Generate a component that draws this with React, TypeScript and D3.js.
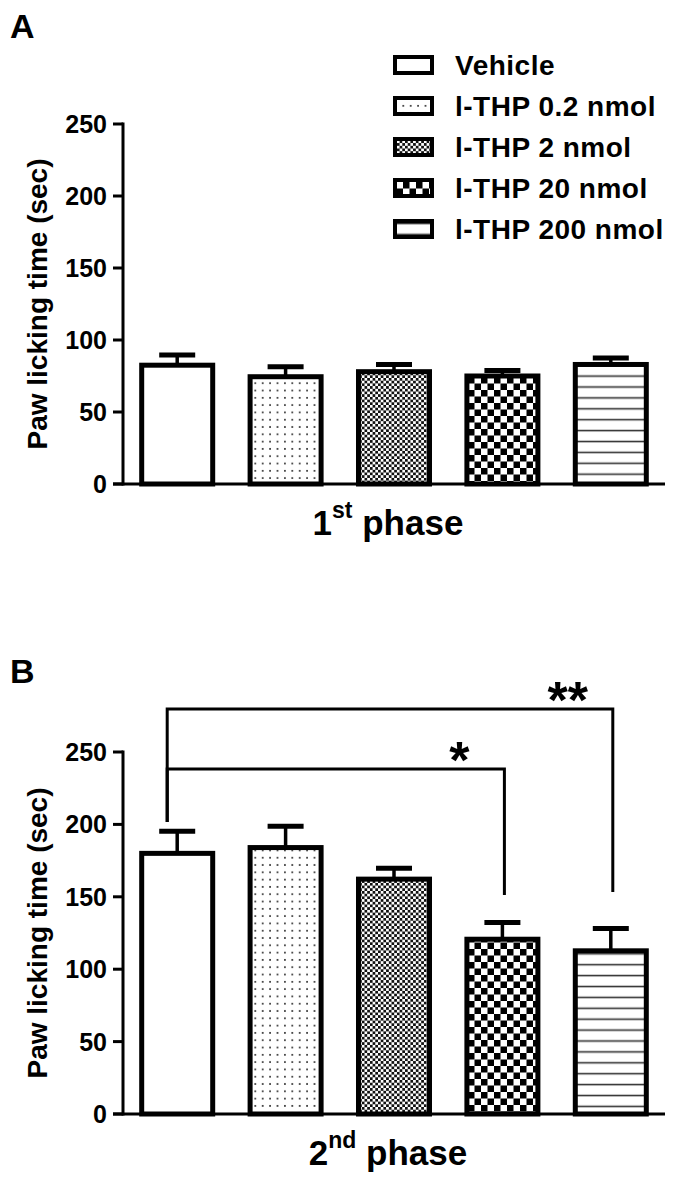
import React from "react";
import * as d3 from "d3";

// ---------- data ----------
const groups = ["Vehicle", "l-THP 0.2 nmol", "l-THP 2 nmol", "l-THP 20 nmol", "l-THP 200 nmol"];
const patternIds = ["p-none", "p-dots", "p-fine", "p-check", "p-lines"];
const yTicks = [0, 50, 100, 150, 200, 250];

const phase1Means = [82.5, 74.5, 78, 75, 83];
const phase1Sem = [7, 7, 5, 3.8, 4.5];

const phase2Means = [180, 184, 162.2, 120.7, 112.7];
const phase2Sem = [15.2, 14.8, 7.6, 11.6, 15.4];

const phase2Comparisons = [
  { from: 0, to: 3, level: 238.3, fromBottom: 201.7, toBottom: 151.2, label: "*" },
  { from: 0, to: 4, level: 279.7, fromBottom: 201.7, toBottom: 153.3, label: "**" },
];

// ---------- style ----------
const FONT = "'Liberation Sans', Arial, Helvetica, sans-serif";
const W = 675;
const H = 1186;
const AXIS_X = 123;
const AXIS_RIGHT = 665;

function Patterns() {
  return (
    <defs>
      <pattern id="p-none" width={10} height={10} patternUnits="userSpaceOnUse">
        <rect width={10} height={10} fill="#fff" />
      </pattern>
      <pattern id="p-dots" width={7.4} height={7.3} patternUnits="userSpaceOnUse">
        <rect width={7.4} height={7.3} fill="#fff" />
        <rect x={2.8} y={2.7} width={1.8} height={1.8} fill="#444" />
      </pattern>
      <pattern id="p-fine" width={5.4} height={5.4} patternUnits="userSpaceOnUse">
        <rect width={5.4} height={5.4} fill="#fff" />
        <rect x={0} y={0} width={2.7} height={2.7} fill="#111" />
        <rect x={2.7} y={2.7} width={2.7} height={2.7} fill="#111" />
      </pattern>
      <pattern id="p-check" width={13} height={13} patternUnits="userSpaceOnUse">
        <rect width={13} height={13} fill="#fff" />
        <rect x={0} y={0} width={6.5} height={6.5} fill="#000" />
        <rect x={6.5} y={6.5} width={6.5} height={6.5} fill="#000" />
      </pattern>
      <pattern id="p-lines" width={10} height={10.9} patternUnits="userSpaceOnUse">
        <rect width={10} height={10.9} fill="#fff" />
        <rect x={0} y={4.7} width={10} height={1.6} fill="#333" />
      </pattern>
    </defs>
  );
}

type Comp = { from: number; to: number; level: number; fromBottom: number; toBottom: number; label: string };

function Panel(props: {
  means: number[];
  sems: number[];
  top: number;
  bottom: number;
  title: string;
  titleY: number;
  num: string;
  sup: string;
  comps?: Comp[];
}) {
  const { means, sems, top, bottom, title, titleY, num, sup, comps } = props;
  const x = d3
    .scaleBand<string>()
    .domain(groups)
    .range([AXIS_X, AXIS_RIGHT])
    .paddingInner(0.345)
    .paddingOuter(0.1725);
  const y = d3.scaleLinear().domain([0, 250]).range([bottom, top]);
  const bw = x.bandwidth();
  const cx = (i: number) => (x(groups[i]) as number) + bw / 2;
  const capW = 36;

  return (
    <g>
      <text x={10} y={titleY} fontFamily={FONT} fontWeight="bold" fontSize={34}>
        {title}
      </text>
      {/* y axis label */}
      <text
        transform={`translate(47, ${(top + bottom) / 2}) rotate(-90)`}
        textAnchor="middle"
        fontFamily={FONT}
        fontWeight="bold"
        fontSize={28}
      >
        Paw licking time (sec)
      </text>
      {/* ticks */}
      {yTicks.map((t) => (
        <g key={t}>
          <line x1={AXIS_X - 10} x2={AXIS_X} y1={y(t)} y2={y(t)} stroke="#000" strokeWidth={3} />
          <text
            x={AXIS_X - 16}
            y={y(t)}
            dy="0.36em"
            textAnchor="end"
            fontFamily={FONT}
            fontWeight="bold"
            fontSize={25}
          >
            {t}
          </text>
        </g>
      ))}
      {/* error bars */}
      {means.map((m, i) => (
        <g key={"e" + i}>
          <line x1={cx(i)} x2={cx(i)} y1={y(m)} y2={y(m + sems[i])} stroke="#000" strokeWidth={3.5} />
          <line
            x1={cx(i) - capW / 2}
            x2={cx(i) + capW / 2}
            y1={y(m + sems[i])}
            y2={y(m + sems[i])}
            stroke="#000"
            strokeWidth={5}
          />
        </g>
      ))}
      {/* bars */}
      {means.map((m, i) => (
        <rect
          key={"b" + i}
          x={x(groups[i])}
          y={y(m)}
          width={bw}
          height={y(0) - y(m)}
          fill={`url(#${patternIds[i]})`}
          stroke="#000"
          strokeWidth={5}
        />
      ))}
      {/* axes */}
      <line x1={AXIS_X} x2={AXIS_X} y1={y(250) - 1.5} y2={y(0) + 1.5} stroke="#000" strokeWidth={3} />
      <line x1={AXIS_X - 10} x2={AXIS_RIGHT} y1={y(0)} y2={y(0)} stroke="#000" strokeWidth={3} />
      {/* x label */}
      <text
        x={(AXIS_X + AXIS_RIGHT) / 2 - 6}
        y={y(0) + 51}
        textAnchor="middle"
        fontFamily={FONT}
        fontWeight="bold"
        fontSize={35}
      >
        <tspan>{num}</tspan>
        <tspan fontSize={23} dy={-17}>
          {sup}
        </tspan>
        <tspan dy={17}>{" phase"}</tspan>
      </text>
      {/* comparison brackets */}
      {(comps || []).map((c, k) => {
        const x1 = cx(c.from) - 10;
        const x2 = cx(c.to) + 2;
        const path = d3.path();
        path.moveTo(x1, y(c.fromBottom));
        path.lineTo(x1, y(c.level));
        path.lineTo(x2, y(c.level));
        path.lineTo(x2, y(c.toBottom));
        return (
          <g key={"c" + k}>
            <path d={path.toString()} fill="none" stroke="#000" strokeWidth={3} />
            <text
              x={x2 - 45}
              y={y(c.level) + 9}
              textAnchor="middle"
              fontFamily={FONT}
              fontWeight="bold"
              fontSize={52}
            >
              {c.label}
            </text>
          </g>
        );
      })}
    </g>
  );
}

function Legend() {
  const rowY = (i: number) => 65 + i * 41;
  return (
    <g>
      {groups.map((g, i) => (
        <g key={g}>
          <rect
            x={395}
            y={rowY(i) - 8}
            width={37}
            height={16}
            fill={`url(#${patternIds[i]})`}
            stroke="#000"
            strokeWidth={4}
          />
          <text
            x={455}
            y={rowY(i)}
            dy="0.36em"
            fontFamily={FONT}
            fontWeight="bold"
            fontSize={28}
            letterSpacing={0.5}
          >
            {g}
          </text>
        </g>
      ))}
    </g>
  );
}

export default function App() {
  return (
    <svg
      width={W}
      height={H}
      viewBox={`0 0 ${W} ${H}`}
      style={{ position: "absolute", left: 0, top: 0, background: "#fff" }}
    >
      <Patterns />
      <rect width={W} height={H} fill="#fff" />
      <Panel means={phase1Means} sems={phase1Sem} top={124} bottom={484} title="A" titleY={38} num="1" sup="st" />
      <Legend />
      <Panel
        means={phase2Means}
        sems={phase2Sem}
        top={752}
        bottom={1114}
        title="B"
        titleY={683}
        num="2"
        sup="nd"
        comps={phase2Comparisons}
      />
    </svg>
  );
}
